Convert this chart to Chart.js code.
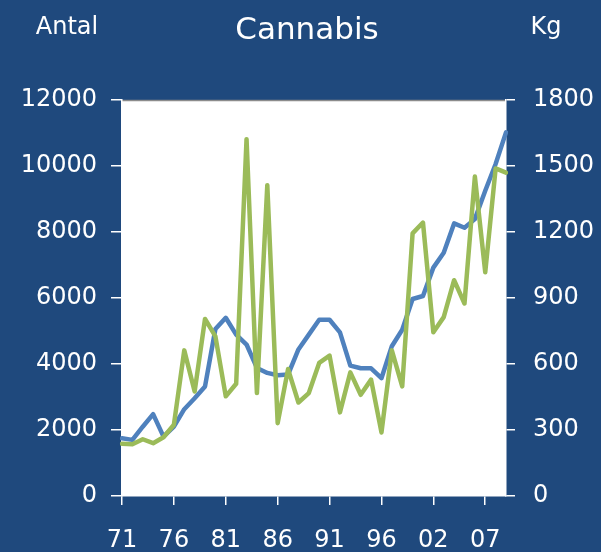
<!DOCTYPE html>
<html>
<head>
<meta charset="utf-8">
<script src="https://cdn.jsdelivr.net/npm/chart.js@4.4.1/dist/chart.umd.min.js"></script>
<style>
  body { margin: 0; background: #1F497D; }
  canvas { display: block; }
</style>
</head>
<body>
<canvas id="chart1" width="601" height="552"></canvas>
<script>
// years (1997 is not in the series)
const years = ['71','72','73','74','75','76','77','78','79','80','81','82','83','84','85','86','87','88','89','90',
  '91','92','93','94','95','96','98','99','00','01','02','03','04','05','06','07','08','09'];
// Antal (left axis)
const antal = [1750,1700,2100,2480,1800,2100,2630,2960,3320,5060,5400,4890,4590,3880,3730,3660,3680,4440,4890,5340,
  5340,4960,3950,3870,3870,3570,4540,5040,5970,6060,6920,7370,8260,8130,8390,9250,10060,11020];
// Kg (right axis)
const kg = [237,235,258,240,267,324,662,475,805,726,453,510,1622,468,1413,331,577,425,468,605,
  638,380,562,460,529,289,662,498,1194,1243,744,813,981,875,1452,1017,1489,1470];

const font = 'DejaVu Sans';

// background, white plot area and the header texts
const frame = {
  id: 'frame',
  beforeDraw(chart) {
    const c = chart.ctx, a = chart.chartArea;
    c.save();
    c.fillStyle = '#1F497D';
    c.fillRect(0, 0, chart.width, chart.height);
    c.fillStyle = '#ffffff';
    c.fillRect(a.left, a.top, a.right - a.left, a.bottom - a.top);
    c.strokeStyle = '#8c8c8c';
    c.lineWidth = 1.5;
    c.beginPath();
    c.moveTo(a.left, a.top + 0.5);
    c.lineTo(a.right, a.top + 0.5);
    c.stroke();
    c.fillStyle = '#ffffff';
    c.textBaseline = 'alphabetic';
    c.textAlign = 'center';
    c.font = '31px "' + font + '"';
    c.fillText('Cannabis', 307, 39);
    c.font = '24px "' + font + '"';
    c.fillText('Antal', 67, 34);
    c.fillText('Kg', 546, 34);
    c.restore();
  }
};

const plain = v => String(v);

new Chart(document.getElementById('chart1'), {
  type: 'line',
  data: {
    labels: years,
    datasets: [
      { label: 'Kg', data: kg, yAxisID: 'y1', borderColor: '#9BBB59', borderWidth: 4.5, order: 0 },
      { label: 'Antal', data: antal, yAxisID: 'y', borderColor: '#4F81BD', borderWidth: 4.5, order: 1 }
    ]
  },
  options: {
    responsive: false,
    animation: false,
    layout: { padding: { top: 100, left: 0, right: 0, bottom: 0 } },
    elements: {
      point: { radius: 0 },
      line: { tension: 0, borderJoinStyle: 'round', borderCapStyle: 'round' }
    },
    plugins: { legend: { display: false }, tooltip: { enabled: false } },
    scales: {
      x: {
        offset: false,
        afterFit(s) { s.height = 56; },
        grid: {
          drawOnChartArea: false,
          tickLength: 9,
          lineWidth: 1.5,
          color: ctx => ctx.index % 5 === 0 ? '#ffffff' : 'rgba(0,0,0,0)'
        },
        border: { color: '#ffffff', width: 1.5 },
        ticks: {
          autoSkip: false,
          maxRotation: 0,
          padding: 21,
          color: '#ffffff',
          font: { family: font, size: 24 },
          callback(v, i) { return i % 5 === 0 ? this.getLabelForValue(v) : ''; }
        }
      },
      y: {
        position: 'left',
        min: 0, max: 12000,
        afterFit(s) { s.width = 122; },
        grid: { drawOnChartArea: false, tickLength: 11, color: '#ffffff', lineWidth: 1.5 },
        border: { color: '#ffffff', width: 1.5 },
        ticks: { stepSize: 2000, padding: 14, color: '#ffffff', font: { family: font, size: 24 }, callback: plain }
      },
      y1: {
        position: 'right',
        min: 0, max: 1800,
        afterFit(s) { s.width = 95; },
        grid: { drawOnChartArea: false, tickLength: 9, color: '#ffffff', lineWidth: 1.5 },
        border: { color: '#ffffff', width: 1.5 },
        ticks: { stepSize: 300, padding: 18, color: '#ffffff', font: { family: font, size: 24 }, callback: plain }
      }
    }
  },
  plugins: [frame]
});
</script>
</body>
</html>
